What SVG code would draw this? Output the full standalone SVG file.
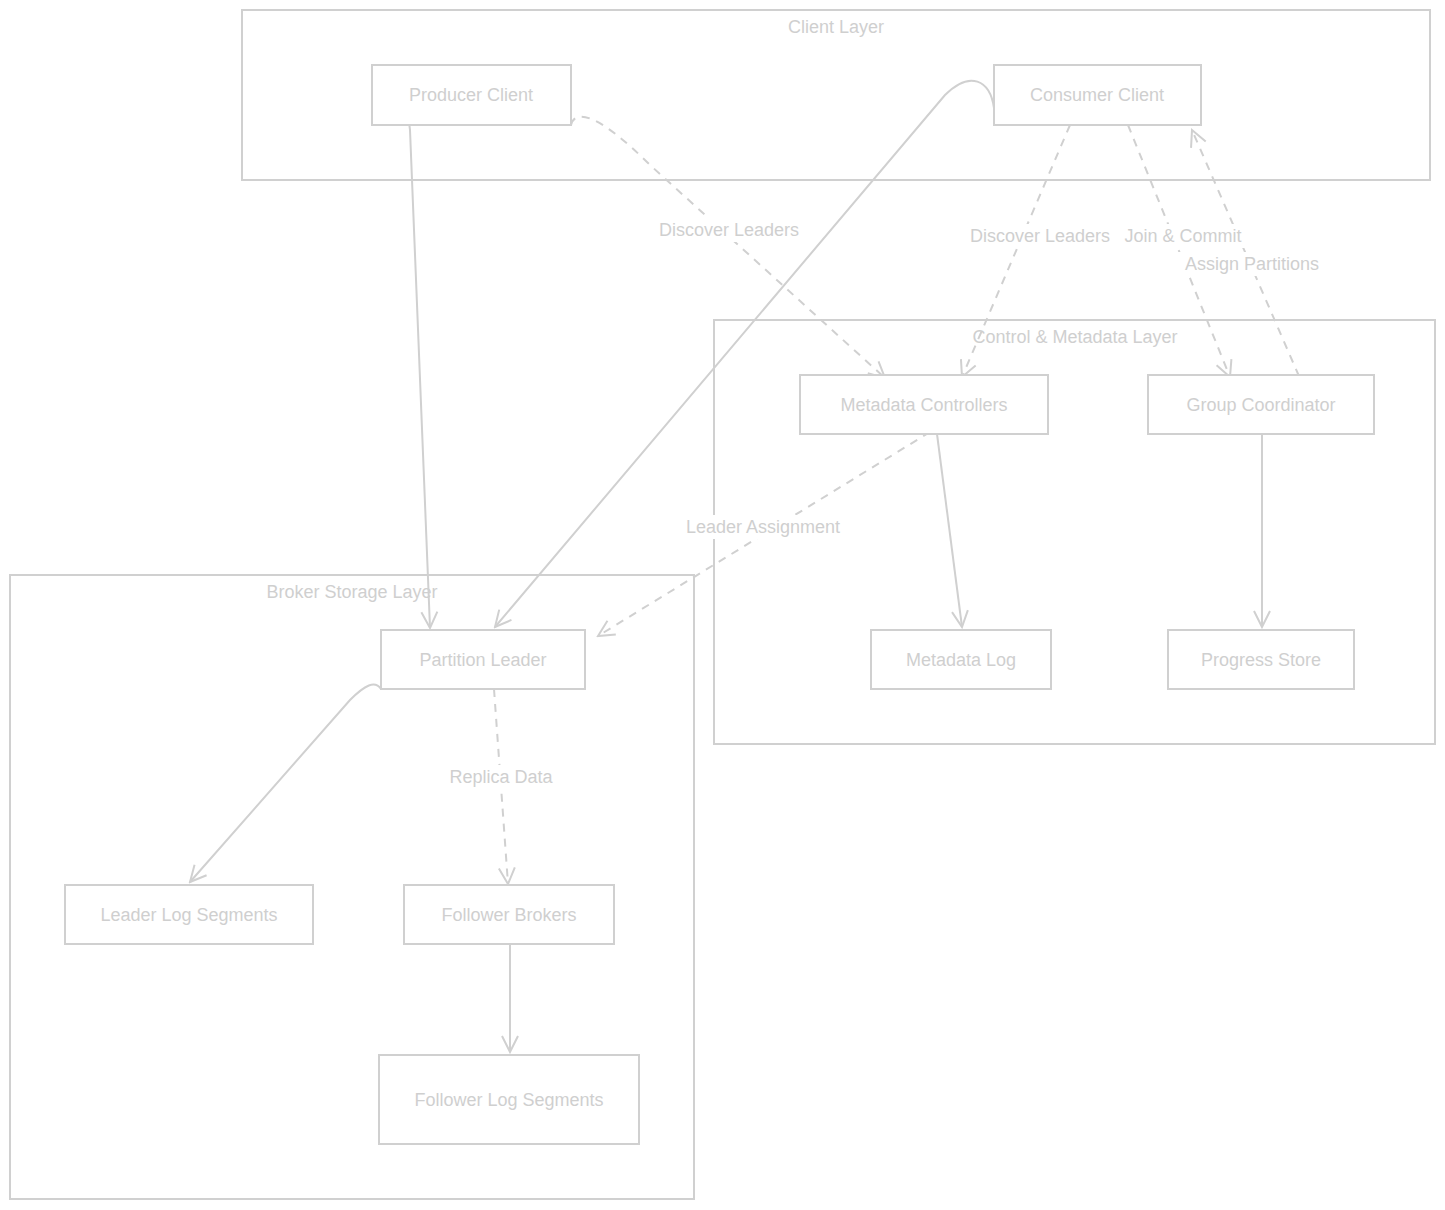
<svg xmlns="http://www.w3.org/2000/svg" width="1445" height="1210" viewBox="0 0 1445 1210">
<style>
.c{fill:none;stroke:#d0d0d0;stroke-width:2}
.n{fill:#fff;stroke:#d0d0d0;stroke-width:2}
.t{font-family:"Liberation Sans",sans-serif;font-size:18px;fill:#cfcfcf;text-anchor:middle;dominant-baseline:central}
.e{fill:none;stroke:#d0d0d0;stroke-width:2}
.d{stroke-dasharray:8 7}
.lb{fill:#fff}
</style>
<defs>
<marker id="a" viewBox="0 0 20 20" refX="18" refY="10" markerWidth="20" markerHeight="20" markerUnits="userSpaceOnUse" orient="auto"><path d="M2,2 L18,10 L2,18" fill="none" stroke="#d0d0d0" stroke-width="2"/></marker>
</defs>
<g id="client-layer"><rect class="c" x="242" y="10" width="1188" height="170"/><text class="t" x="836" y="27">Client Layer</text></g>
<g id="control-layer"><rect class="c" x="714" y="320" width="721" height="424"/><text class="t" x="1075" y="337">Control &amp; Metadata Layer</text></g>
<g id="broker-layer"><rect class="c" x="10" y="575" width="684" height="624"/><text class="t" x="352" y="592">Broker Storage Layer</text></g>
<g id="edges">
<path class="e" d="M423,125 C412,88 405,92 410,130 L430,628" marker-end="url(#a)"/>
<path class="e d" d="M571,125 C575,108 600,115 650,165 L885,378" marker-end="url(#a)"/>
<path class="e" d="M994,108 C990,80 970,70 945,95 L495,627" marker-end="url(#a)"/>
<path class="e d" d="M1070,125 L962,377" marker-end="url(#a)"/>
<path class="e d" d="M1128,125 L1230,377" marker-end="url(#a)"/>
<path class="e d" d="M1305,390 L1192,130" marker-end="url(#a)"/>
<path class="e d" d="M930,432 L598,636" marker-end="url(#a)"/>
<path class="e" d="M937,434 L962,627" marker-end="url(#a)"/>
<path class="e" d="M1262,434 L1262,627" marker-end="url(#a)"/>
<path class="e" d="M381,689 C375,680 365,685 350,700 L190,882" marker-end="url(#a)"/>
<path class="e d" d="M494,689 L508,884" marker-end="url(#a)"/>
<path class="e" d="M510,944 L510,1052" marker-end="url(#a)"/>
<rect class="lb" x="646" y="218" width="166" height="24"/><text class="t" x="729" y="230">Discover Leaders</text>
<rect class="lb" x="934" y="224" width="312" height="24"/><text class="t" x="1040" y="236">Discover Leaders</text><text class="t" x="1183" y="236">Join &amp; Commit</text>
<rect class="lb" x="1168" y="252" width="168" height="24"/><text class="t" x="1252" y="264">Assign Partitions</text>
<rect class="lb" x="674" y="515" width="180" height="24"/><text class="t" x="763" y="527">Leader Assignment</text>
<rect class="lb" x="439" y="765" width="124" height="24"/><text class="t" x="501" y="777">Replica Data</text>
</g>
<g id="producer"><rect class="n" x="372" y="65" width="199" height="60"/><text class="t" x="471" y="95">Producer Client</text></g>
<g id="consumer"><rect class="n" x="994" y="65" width="207" height="60"/><text class="t" x="1097" y="95">Consumer Client</text></g>
<g id="metadata-controllers"><rect class="n" x="800" y="375" width="248" height="59"/><text class="t" x="924" y="405">Metadata Controllers</text></g>
<g id="group-coordinator"><rect class="n" x="1148" y="375" width="226" height="59"/><text class="t" x="1261" y="405">Group Coordinator</text></g>
<g id="metadata-log"><rect class="n" x="871" y="630" width="180" height="59"/><text class="t" x="961" y="660">Metadata Log</text></g>
<g id="progress-store"><rect class="n" x="1168" y="630" width="186" height="59"/><text class="t" x="1261" y="660">Progress Store</text></g>
<g id="partition-leader"><rect class="n" x="381" y="630" width="204" height="59"/><text class="t" x="483" y="660">Partition Leader</text></g>
<g id="leader-log"><rect class="n" x="65" y="885" width="248" height="59"/><text class="t" x="189" y="915">Leader Log Segments</text></g>
<g id="follower-brokers"><rect class="n" x="404" y="885" width="210" height="59"/><text class="t" x="509" y="915">Follower Brokers</text></g>
<g id="follower-log"><rect class="n" x="379" y="1055" width="260" height="89"/><text class="t" x="509" y="1100">Follower Log Segments</text></g>
</svg>
